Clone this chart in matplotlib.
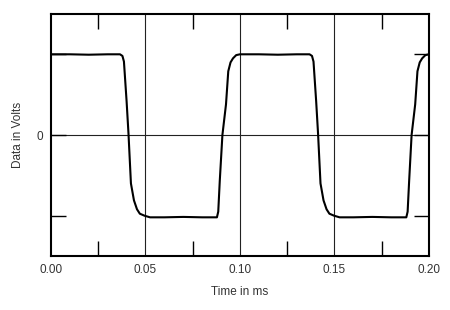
import matplotlib.pyplot as plt
from matplotlib.ticker import FixedLocator

plt.rcParams['font.family'] = ['Liberation Sans', 'DejaVu Sans']

# waveform (time in ms, level in volts)
time_ms = [0.000, 0.010, 0.020, 0.030, 0.0365, 0.0378, 0.0386, 0.0400, 0.0410,
           0.0423, 0.0439, 0.0455, 0.0470, 0.0495, 0.0524, 0.060, 0.070, 0.080,
           0.0878, 0.0885, 0.0893, 0.0907, 0.0926, 0.0938, 0.0950, 0.0963,
           0.0980, 0.1000, 0.110, 0.120, 0.130, 0.1368, 0.1381, 0.1389, 0.1403,
           0.1413, 0.1426, 0.1442, 0.1458, 0.1473, 0.1498, 0.1527, 0.160, 0.170,
           0.180, 0.1880, 0.1887, 0.1895, 0.1908, 0.1927, 0.1939, 0.1951,
           0.1964, 0.1981, 0.2000]
volts = [1.00, 1.00, 0.995, 1.00, 1.00, 0.98, 0.91, 0.42, 0.02,
         -0.60, -0.81, -0.92, -0.975, -1.00, -1.02, -1.02, -1.015, -1.02,
         -1.02, -0.95, -0.57, 0.00, 0.38, 0.79, 0.90, 0.95,
         0.99, 1.00, 1.00, 0.995, 1.00, 1.00, 0.98, 0.91, 0.42,
         0.02, -0.60, -0.81, -0.92, -0.975, -1.00, -1.02, -1.02, -1.015,
         -1.02, -1.02, -0.95, -0.57, 0.00, 0.38, 0.79, 0.90,
         0.95, 0.99, 1.00]

x_ticks = [0.00, 0.05, 0.10, 0.15, 0.20]
x_labels = ['0.00', '0.05', '0.10', '0.15', '0.20']
x_minor = [0.025, 0.075, 0.125, 0.175]
y_ticks = [-1, 0, 1]
y_labels = ['', '0', '']

fig = plt.figure(figsize=(4.5, 3.1), dpi=100)
ax = fig.add_axes([0.1133, 0.174, 0.84, 0.781])

ax.plot(time_ms, volts, color='k', lw=1.5, zorder=3)

ax.set_xlim(0, 0.2)
ax.set_ylim(-1.5, 1.5)
ax.set_xticks(x_ticks)
ax.set_xticklabels(x_labels)
ax.xaxis.set_minor_locator(FixedLocator(x_minor))
ax.set_yticks(y_ticks)
ax.set_yticklabels(y_labels)

ax.tick_params(axis='x', which='major', length=0, pad=6, labelsize=8.5, labelcolor='#333333')
ax.tick_params(axis='x', which='minor', direction='in', length=11, width=1, top=True, bottom=True)
ax.tick_params(axis='y', direction='in', length=11, width=1, left=True, right=True,
               labelsize=8.5, labelcolor='#333333', pad=6)

for xv in x_ticks[1:-1]:
    ax.axvline(xv, color='#222222', lw=0.8, zorder=1)
ax.axhline(0, color='#222222', lw=0.8, zorder=1)

for sp in ax.spines.values():
    sp.set_linewidth(1.5)

ax.set_xlabel('Time in ms', fontsize=8.5, color='#333333', labelpad=7)
ax.set_ylabel('Data in Volts', fontsize=8.5, color='#333333', labelpad=9)

fig.savefig('out.png', dpi=100)
